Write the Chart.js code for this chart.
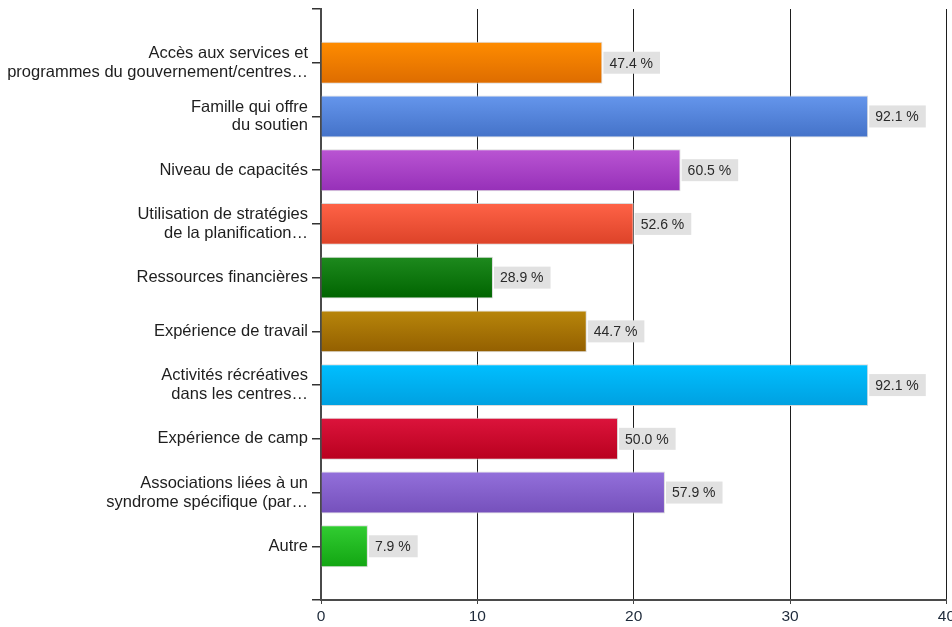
<!DOCTYPE html>
<html>
<head>
<meta charset="utf-8">
<script src="https://cdn.jsdelivr.net/npm/chart.js@4/dist/chart.umd.min.js"></script>
<style>
  html, body { margin: 0; padding: 0; background: #fff; overflow: hidden; }
  #wrap { width: 958px; height: 627px; }
</style>
</head>
<body>
<div id="wrap"><canvas id="chart"></canvas></div>
<script>
// answers per support type, out of 38 respondents
const categories = [
    ["Accès aux services et", "programmes du gouvernement/centres…"],
    ["Famille qui offre", "du soutien"],
    "Niveau de capacités",
    ["Utilisation de stratégies", "de la planification…"],
    "Ressources financières",
    "Expérience de travail",
    ["Activités récréatives", "dans les centres…"],
    "Expérience de camp",
    ["Associations liées à un", "syndrome spécifique (par…"],
    "Autre"
];
const counts = [18, 35, 23, 20, 11, 17, 35, 19, 22, 3];
const respondents = 38;
const xTicks = [0, 10, 20, 30, 40];

// top / bottom colour of each bar's gradient
const topColors = ["#ff8c00", "#6596ec", "#ba55d3", "#ff6347", "#1e8a1e", "#b8860b", "#00bfff", "#dc143c", "#9370db", "#32cd32"];
const bottomColors = ["#dd6c00", "#4472c8", "#9630b8", "#dc4228", "#006400", "#935f00", "#00a0e0", "#b8001e", "#7550bb", "#12a512"];

const BAR_HALF = 21;
const FONT = "'Liberation Sans', Arial, sans-serif";

function barGradient(c, colorsTop, colorsBottom) {
    const chart = c.chart;
    const y = chart.scales.y;
    const i = c.dataIndex;
    if (!y || y.top === undefined || !chart.chartArea) return colorsTop[i];
    const yc = y.getPixelForValue(i + 1);
    const g = chart.ctx.createLinearGradient(0, yc - BAR_HALF, 0, yc + BAR_HALF);
    g.addColorStop(0, colorsTop[i]);
    g.addColorStop(1, colorsBottom[i]);
    return g;
}

// grey boxes with the percentage right of each bar
const valueLabels = {
    id: "valueLabels",
    afterDatasetsDraw(chart) {
        const ctx = chart.ctx;
        const meta = chart.getDatasetMeta(0);
        ctx.save();
        ctx.font = "14px " + FONT;
        ctx.textBaseline = "middle";
        meta.data.forEach((bar, i) => {
            const text = (counts[i] / respondents * 100).toFixed(1) + " %";
            const w = ctx.measureText(text).width + 13;
            const x = bar.x + 1;
            ctx.fillStyle = "#e1e1e1";
            ctx.fillRect(x, bar.y - 11, w, 22);
            ctx.fillStyle = "#2a2a2a";
            ctx.fillText(text, x + 6, bar.y + 1);
        });
        ctx.restore();
    }
};

const ctx = document.getElementById("chart").getContext("2d");
new Chart(ctx, {
    type: "bar",
    data: {
        datasets: [{
            data: counts.map((v, i) => ({ x: v, y: i + 1 })),
            backgroundColor: c => barGradient(c, topColors, bottomColors),
            borderColor: "rgba(215,215,215,0.9)",
            borderWidth: 1,
            barPercentage: 0.78,
            categoryPercentage: 1
        }]
    },
    options: {
        indexAxis: "y",
        responsive: true,
        maintainAspectRatio: false,
        animation: false,
        layout: { padding: { top: 0, right: 10, left: 0, bottom: 0 } },
        plugins: {
            legend: { display: false },
            tooltip: { enabled: false }
        },
        scales: {
            x: {
                type: "linear",
                min: 0,
                max: 40,
                afterBuildTicks: s => { s.ticks = xTicks.map(v => ({ value: v })); },
                grid: { color: "#1e1e1e", lineWidth: 1, tickLength: 4, tickColor: "#444" },
                border: { color: "#4a4a4a", width: 2 },
                ticks: {
                    color: "#1e2a3a",
                    padding: 3,
                    font: { family: FONT, size: 15.5 }
                },
                afterFit: s => { s.height = 27; }
            },
            y: {
                type: "linear",
                reverse: true,
                offset: false,
                min: 0,
                max: 11,
                ticks: {
                    stepSize: 1,
                    autoSkip: false,
                    color: "#1e1e1e",
                    padding: 4,
                    font: { family: FONT, size: 16.5, lineHeight: 1.15 },
                    callback: v => categories[v - 1] || ""
                },
                grid: { offset: false, drawOnChartArea: false, tickLength: 9, color: "#333", lineWidth: 1.5 },
                border: { color: "#4a4a4a", width: 2 },
                afterFit: s => { s.width = 321; s.paddingTop = 9; }
            }
        }
    },
    plugins: [valueLabels]
});
</script>
</body>
</html>
